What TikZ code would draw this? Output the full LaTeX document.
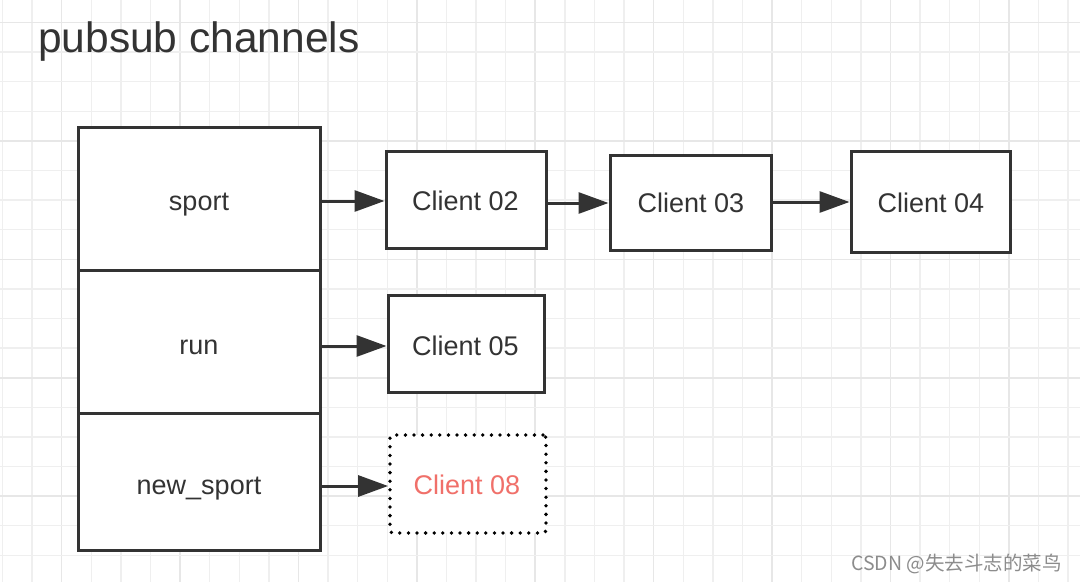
\documentclass[tikz,border=0pt]{standalone}
\usepackage{fontspec}
\setmainfont{Liberation Sans}
\newfontfamily\cjkfont{Noto Sans CJK SC}
\usetikzlibrary{arrows.meta}
\definecolor{ink}{HTML}{333333}
\definecolor{gridminor}{HTML}{EFEFEF}
\definecolor{gridmajor}{HTML}{E7E7E7}
\definecolor{newcl}{HTML}{F0706A}
\definecolor{wm}{HTML}{8C8C8C}
\tikzset{
  chanbox/.style={draw=ink, line width=3pt, minimum width=242pt, fill=white, inner sep=0pt},
  clientbox/.style={draw=ink, line width=3pt, fill=white, inner sep=0pt},
  newbox/.style={draw=black, line width=3.8pt, dash pattern=on 0pt off 8.6pt, line cap=round, rounded corners=3pt, fill=white, inner sep=0pt},
  lbl/.style={anchor=base, text=ink, font=\fontsize{27}{32}\selectfont, inner sep=0pt},
  link/.style={draw=ink, line width=3pt, -{Triangle[length=30pt,width=21pt]}},
}
\begin{document}
\begin{tikzpicture}[x=1pt,y=-1pt]
\useasboundingbox (0,0) rectangle (1080,582);
\fill[white] (0,0) rectangle (1080,582);
% grid
\foreach \i in {0,...,36} {
  \pgfmathsetmacro{\xx}{2.4+29.6*\i}
  \pgfmathtruncatemacro{\m}{mod(\i,4)}
  \ifnum\m=2
    \draw[gridmajor, line width=1.6pt] (\xx,0) -- (\xx,582);
  \else
    \draw[gridminor, line width=1.4pt] (\xx,0) -- (\xx,582);
  \fi
}
\foreach \i in {0,...,18} {
  \pgfmathsetmacro{\yy}{22.5+29.6*\i}
  \pgfmathtruncatemacro{\m}{mod(\i,4)}
  \ifnum\m=0
    \draw[gridmajor, line width=1.6pt] (0,\yy) -- (1080,\yy);
  \else
    \draw[gridminor, line width=1.4pt] (0,\yy) -- (1080,\yy);
  \fi
}
% title
\node[anchor=base west, text=ink, font=\fontsize{42.5}{50}\selectfont, inner sep=0pt] (title) at (38,52) {pubsub channels};
% channel column
\node[chanbox, minimum height=143pt] (sport) at (199,198.5) {};
\node[chanbox, minimum height=143pt] (run) at (199,341.5) {};
\node[chanbox, minimum height=137pt] (newsport) at (199,481.5) {};
\node[lbl] (sportl) at (199,210) {sport};
\node[lbl] (runl) at (199,354.5) {run};
\node[lbl] (newl) at (199,494) {new\_sport};
% clients
\node[clientbox, minimum width=160pt, minimum height=97pt] (c02) at (466,199.5) {};
\node[clientbox, minimum width=161pt, minimum height=95pt] (c03) at (690.5,202.5) {};
\node[clientbox, minimum width=159pt, minimum height=101pt] (c04) at (930.5,201.5) {};
\node[clientbox, minimum width=156pt, minimum height=97pt] (c05) at (466,343.5) {};
\node[newbox, minimum width=156pt, minimum height=98pt] (c08) at (468,484) {};
\node[lbl] (c02l) at (465.5,210.5) {Client 02};
\node[lbl] (c03l) at (691,212.5) {Client 03};
\node[lbl] (c04l) at (931,212) {Client 04};
\node[lbl] (c05l) at (465.5,355) {Client 05};
\node[lbl, text=newcl] (c08l) at (467,494) {Client 08};
% links
\draw[link] (sport.east |- 0,201) -- (c02.west |- 0,201);
\draw[link] (c02.east |- 0,203) -- (c03.west |- 0,203);
\draw[link] (c03.east |- 0,202) -- (c04.west |- 0,202);
\draw[link] (run.east |- 0,346) -- (c05.west |- 0,346);
\draw[link] (newsport.east |- 0,486) -- (c08.west |- 0,486);
% watermark
\node[anchor=base east, text=wm, font=\cjkfont\fontsize{19.5}{22}\selectfont, inner sep=0pt] (wmark) at (1062,570) {CSDN @失去斗志的菜鸟};
\end{tikzpicture}
\end{document}
